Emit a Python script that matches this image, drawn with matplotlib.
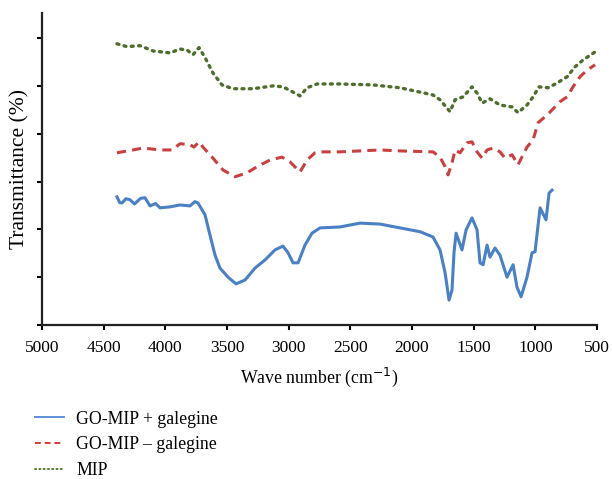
import numpy as np
import matplotlib.pyplot as plt

plt.rcParams['font.family'] = ['Liberation Serif', 'DejaVu Serif']

# FTIR spectra (wave number in cm-1, transmittance in arbitrary %)
wn_blue = [4392, 4370, 4351, 4320, 4287, 4250, 4200, 4165, 4124, 4080, 4043, 3962, 3881, 3800,
           3760, 3735, 3678, 3638, 3597, 3557, 3492, 3427, 3354, 3273, 3192, 3111, 3046,
           3005, 2965, 2924, 2868, 2811, 2746, 2584, 2422, 2259, 2097, 1935, 1830, 1773,
           1732, 1700, 1676, 1660, 1643, 1595, 1562, 1514, 1473, 1449, 1424, 1392, 1368,
           1327, 1287, 1230, 1181, 1149, 1116, 1068, 1027, 1003, 962, 914, 889, 865]
tr_blue = [26.8, 25.6, 25.5, 26.4, 26.2, 25.3, 26.5, 26.6, 24.9, 25.4, 24.5, 24.7, 25.1, 24.9,
           25.8, 25.5, 23.0, 18.8, 14.6, 11.9, 10.0, 8.6, 9.4, 11.9, 13.6, 15.7, 16.5,
           15.1, 13.0, 13.0, 16.7, 19.2, 20.3, 20.5, 21.3, 21.1, 20.3, 19.5, 18.4, 15.7,
           10.9, 5.2, 7.3, 15.1, 19.2, 15.7, 19.9, 22.4, 19.9, 13.0, 12.6, 16.7, 14.2,
           16.1, 14.6, 10.0, 12.6, 7.9, 5.9, 10.0, 15.1, 15.3, 24.5, 22.0, 27.6, 28.2]

wn_red = [4392, 4351, 4262, 4181, 4043, 3946, 3881, 3800, 3768, 3727, 3695, 3614, 3532,
          3435, 3338, 3257, 3151, 3054, 2989, 2908, 2851, 2787, 2746, 2584, 2259, 2097,
          1830, 1773, 1732, 1708, 1676, 1651, 1611, 1554, 1514, 1473, 1432, 1392, 1343,
          1287, 1246, 1189, 1141, 1068, 1019, 978, 905, 800, 743, 695, 638, 581, 516]
tr_red = [36.0, 36.2, 36.6, 37.0, 36.6, 36.6, 37.9, 37.7, 37.2, 38.3, 37.2, 34.9, 32.4,
          31.0, 31.8, 33.1, 34.5, 35.1, 34.1, 32.0, 34.5, 36.0, 36.2, 36.2, 36.6, 36.4,
          36.2, 35.1, 33.1, 31.4, 33.9, 36.6, 36.0, 38.1, 38.3, 36.2, 34.9, 36.6, 37.0,
          36.2, 34.9, 35.6, 33.5, 37.2, 38.7, 42.3, 43.9, 46.7, 47.7, 49.8, 51.9, 53.3, 54.4]

wn_green = [4392, 4311, 4205, 4100, 3962, 3881, 3824, 3776, 3727, 3678, 3614, 3541, 3451,
            3289, 3127, 3046, 2965, 2908, 2851, 2770, 2584, 2316, 2097, 1830, 1773, 1692,
            1651, 1586, 1514, 1473, 1432, 1368, 1287, 1189, 1141, 1068, 1019, 970, 897,
            824, 743, 678, 614, 516]
tr_green = [58.8, 58.2, 58.4, 57.3, 56.9, 57.7, 57.5, 56.5, 58.0, 55.9, 52.7, 50.2, 49.4,
            49.4, 50.0, 49.8, 48.7, 47.9, 49.6, 50.4, 50.4, 50.2, 49.6, 48.1, 47.1, 44.6,
            47.1, 47.7, 49.8, 48.5, 46.4, 47.3, 46.0, 45.6, 44.4, 46.0, 47.7, 49.8, 49.6,
            50.6, 51.9, 54.0, 55.4, 57.1]

labels = ['GO-MIP + galegine', 'GO-MIP \u2013 galegine', 'MIP']

fig = plt.figure(figsize=(6.12, 4.79), dpi=100)
ax = fig.add_axes([0.0686, 0.3215, 0.907, 0.652])

ax.plot(wn_blue, tr_blue, color='#4a80c4', lw=2.2, label=labels[0])
ax.plot(wn_red, tr_red, color='#c9413f', lw=2.2, ls=(0, (3, 2)), label=labels[1])
ax.plot(wn_green, tr_green, color='#4d6e2c', lw=2.4, ls=(0, (0.6, 1.6)),
        dash_capstyle='round', label=labels[2])

ax.set_xlim(5000, 500)
ax.set_xticks(np.arange(5000, 499, -500))
ax.set_ylim(0, 65.3)
ax.set_yticks(np.arange(0, 61, 10))
ax.set_yticklabels([])

for s in ['top', 'right']:
    ax.spines[s].set_visible(False)
for s in ['left', 'bottom']:
    ax.spines[s].set_linewidth(1.6)
    ax.spines[s].set_color('#222222')
ax.tick_params(axis='both', direction='out', length=3.5, width=1.5, labelsize=12.5, pad=7)

ax.set_xlabel('Wave number (cm$^{-1}$)', fontsize=12.8, labelpad=7)
ax.set_ylabel('Transmittance (%)', fontsize=15.5)
ax.yaxis.set_label_coords(-0.022, 0.5)

leg = fig.legend(loc='upper left', bbox_to_anchor=(0.058, 0.143), frameon=False,
                 fontsize=12.8, handlelength=1.6, labelspacing=0.5, handletextpad=0.7,
                 borderpad=0, borderaxespad=0)
leg_colors = ['#5b8fd6', '#d83a36', '#5d7a30']
for ln, c in zip(leg.get_lines(), leg_colors):
    ln.set_linewidth(1.4)
    ln.set_color(c)

fig.savefig('out.png', dpi=100)
